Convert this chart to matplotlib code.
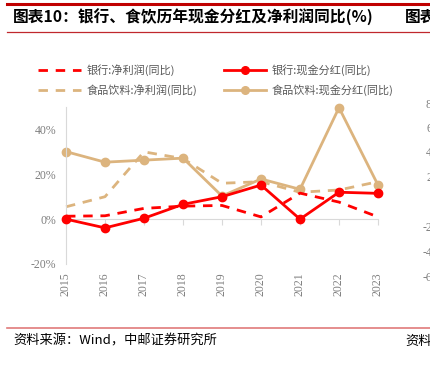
import matplotlib
matplotlib.use("Agg")
import matplotlib.pyplot as plt
from matplotlib.lines import Line2D
from matplotlib.ticker import FuncFormatter

plt.rcParams['font.family'] = ['Noto Sans CJK SC', 'DejaVu Sans']

# data (% yoy)
years = ['2015', '2016', '2017', '2018', '2019', '2020', '2021', '2022', '2023']
bank_profit = [1.3, 1.5, 4.8, 5.8, 6.1, 1.0, 11.6, 7.6, 1.0]
bank_dividend = [0.0, -3.9, 0.4, 6.6, 10.0, 15.2, 0.0, 12.0, 11.5]
food_profit = [5.5, 10.0, 30.0, 27.0, 16.0, 16.7, 12.0, 13.0, 16.7]
food_dividend = [30.1, 25.4, 26.3, 27.2, 10.3, 17.9, 13.3, 49.7, 15.2]
yticks = [-20, 0, 20, 40]
right_labels = ['80', '60', '40', '20', '0', '-20', '-40', '-60']

RED = '#ff0000'
TAN = '#dcb47e'
GRID = '#d9d9d9'
TXT = '#7f7f7f'
W, H = 431, 369

fig = plt.figure(figsize=(W / 100, H / 100), dpi=100)
ax = fig.add_axes([66 / W, 1 - 264 / H, (378 - 66) / W, (264 - 107) / H])

x = range(len(years))
dash = (3.4, 2.8)
l1, = ax.plot(x, bank_profit, color=RED, lw=2, dashes=dash, clip_on=False, zorder=3)
l3, = ax.plot(x, food_profit, color=TAN, lw=2, dashes=dash, clip_on=False, zorder=2)
l4, = ax.plot(x, food_dividend, color=TAN, lw=2, marker='o', ms=6, clip_on=False, zorder=2)
l2, = ax.plot(x, bank_dividend, color=RED, lw=2, marker='o', ms=6, clip_on=False, zorder=4)

ax.set_xlim(0, len(years) - 1)
ax.set_ylim(-20, 50)
ax.set_yticks(yticks)
ax.yaxis.set_major_formatter(FuncFormatter(lambda v, p: f'{v:.0f}%'))
ax.tick_params(axis='y', length=0, pad=7, labelsize=8.5, labelcolor=TXT)
for lab in ax.get_yticklabels():
    lab.set_fontfamily('Liberation Serif')

for s in ['top', 'right']:
    ax.spines[s].set_visible(False)
ax.spines['left'].set_color(GRID)
ax.spines['bottom'].set_color(GRID)
ax.spines['bottom'].set_position(('data', 0))
ax.set_xticks(list(x))
ax.tick_params(axis='x', length=4, color=GRID, labelbottom=False)

sec = ax.secondary_xaxis('bottom')
sec.set_xticks(list(x), labels=years, rotation=90)
sec.tick_params(length=0, pad=6, labelsize=8.5, labelcolor=TXT)
sec.spines['bottom'].set_visible(False)
for lab in sec.get_xticklabels():
    lab.set_fontfamily('Liberation Serif')

handles = [
    Line2D([], [], color=RED, lw=2, dashes=dash),
    Line2D([], [], color=TAN, lw=2, dashes=dash),
    Line2D([], [], color=RED, lw=2, marker='o', ms=5.5),
    Line2D([], [], color=TAN, lw=2, marker='o', ms=5.5),
]
labels = ['银行:净利润(同比)', '食品饮料:净利润(同比)', '银行:现金分红(同比)', '食品饮料:现金分红(同比)']
fig.legend(handles, labels, ncol=2, loc='upper left', bbox_to_anchor=(34 / W, 1 - 60 / H),
           frameon=False, fontsize=8, labelcolor='#595959', handlelength=3.8,
           handletextpad=0.5, columnspacing=2.4, labelspacing=0.75, borderaxespad=0)

# page decorations
fig.add_artist(Line2D([7 / W, 1], [1 - 4 / H] * 2, color='#c00000', lw=2.2))
fig.add_artist(Line2D([7 / W, 1], [1 - 32 / H] * 2, color='#c0282d', lw=0.9))
fig.add_artist(Line2D([7 / W, 1], [1 - 328 / H] * 2, color='#e07a7a', lw=1.2))
fig.text(13 / W, 1 - 17 / H, '图表10：银行、食饮历年现金分红及净利润同比(%)', fontsize=11.3,
         fontweight='bold', va='center', ha='left', color='#000000')
fig.text(405 / W, 1 - 17 / H, '图表', fontsize=11.3, fontweight='bold', va='center', ha='left')
fig.text(13 / W, 1 - 341 / H, '资料来源：Wind，中邮证券研究所', fontsize=9.5, va='center', ha='left')
fig.text(405 / W, 1 - 341 / H, '资料', fontsize=9.5, va='center', ha='left')

right_y = [105, 129, 153, 178, 203, 228, 253, 278]
for lab, yy in zip(right_labels, right_y):
    fig.text(438 / W, 1 - yy / H, lab, fontsize=8.5, color=TXT, ha='right', va='center',
             family='Liberation Serif')

fig.savefig('out.png', dpi=100)
